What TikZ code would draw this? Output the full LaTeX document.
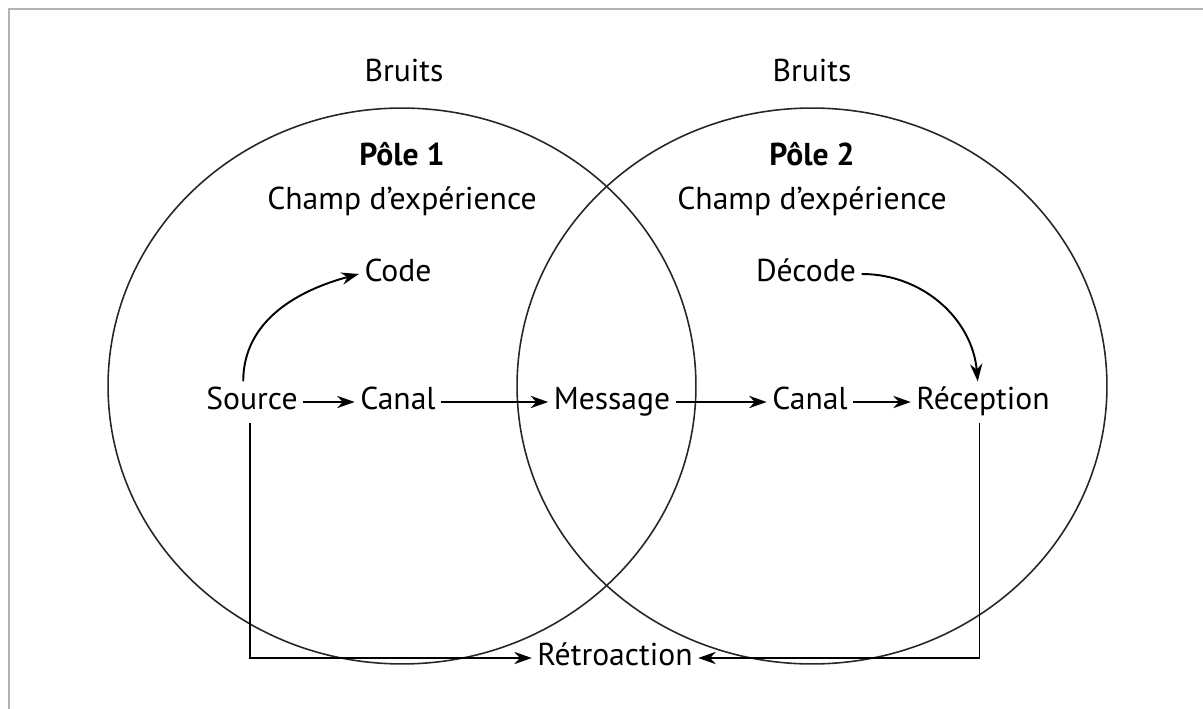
\documentclass[tikz,border=0pt]{standalone}
\usepackage{fontspec}
\usetikzlibrary{arrows.meta}
\setmainfont{PT Sans}
\begin{document}
\begin{tikzpicture}[x=0.02cm, y=-0.02cm,
    word/.style={font=\fontsize{18}{22}\selectfont, inner sep=3pt, text height=13pt, text depth=4pt},
    title/.style={word, font=\fontsize{18}{22}\selectfont\bfseries},
    field/.style={line width=0.9pt, black!85},
    arrow/.style={->, >={Stealth[length=10pt, width=7pt]}, line width=1.1pt}
]
    \useasboundingbox (0,0) rectangle (1203,709);
    \draw[gray!60, line width=1pt] (9,709) -- (9,9) -- (1203,9);

    \draw[field] (402,386) ellipse [x radius=5.88cm, y radius=5.56cm];
    \draw[field] (812,386) ellipse [x radius=5.9cm, y radius=5.56cm];

    \node[word] (noise1) at (404,74) {Bruits};
    \node[word] (noise2) at (812,74) {Bruits};
    \node[title] (pole1) at (402,158) {Pôle 1};
    \node[title] (pole2) at (812,158) {Pôle 2};
    \node[word] (field1) at (402,202) {Champ d’expérience};
    \node[word] (field2) at (812,202) {Champ d’expérience};

    \node[word] (code) at (398,274) {Code};
    \node[word] (decode) at (806,274) {Décode};
    \node[word] (src) at (252,402) {Source};
    \node[word] (canal1) at (398,402) {Canal};
    \node[word] (msg) at (612,402) {Message};
    \node[word] (canal2) at (810,402) {Canal};
    \node[word] (recep) at (983,402) {Réception};
    \node[word] (retro) at (615,658) {Rétroaction};

    \draw[arrow] (src) -- (canal1);
    \draw[arrow] (canal1) -- (msg);
    \draw[arrow] (msg) -- (canal2);
    \draw[arrow] (canal2) -- (recep);
    \draw[arrow] ([xshift=-5pt]src.north) to[out=90, in=195] (code.west);
    \draw[arrow] (decode.east) to[out=0, in=95] ([xshift=-3pt]recep.north);
    \draw[arrow] ([xshift=-1pt]src.south) |- (retro.west);
    \draw[arrow] ([xshift=-2pt]recep.south) |- (retro.east);
\end{tikzpicture}
\end{document}
